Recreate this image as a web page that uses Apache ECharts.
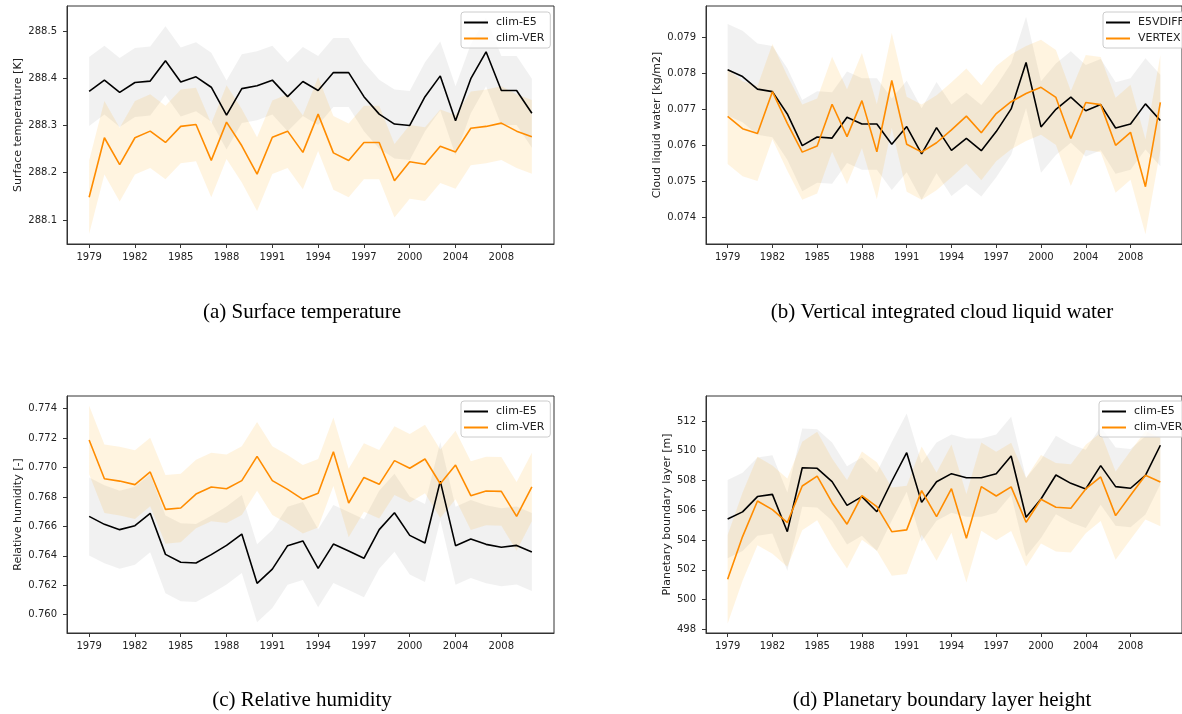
<!DOCTYPE html>
<html>
<head>
<meta charset="utf-8">
<script src="https://cdn.jsdelivr.net/npm/echarts@6/dist/echarts.min.js"></script>
<style>
  html, body { margin: 0; padding: 0; background: #fff; }
  #main { width: 1182px; height: 714px; }
</style>
</head>
<body>
<div id="main"></div>
<script>
// x positions are sample indices 0..29, labelled at every third one
const tickIdx = [0, 3, 6, 9, 12, 15, 18, 21, 24, 27];
const tickLabels = ['1979', '1982', '1985', '1988', '1991', '1994', '1997', '2000', '2004', '2008'];

// (a) surface temperature [K]
const tasE5 = [288.372, 288.396, 288.370, 288.391, 288.394, 288.437, 288.392, 288.403, 288.381, 288.322, 288.378, 288.384, 288.396, 288.361, 288.393, 288.374, 288.412, 288.412, 288.361, 288.324, 288.303, 288.300, 288.361, 288.405, 288.310, 288.399, 288.456, 288.374, 288.374, 288.326];
const tasE5Hi = [288.445, 288.469, 288.443, 288.464, 288.467, 288.510, 288.465, 288.476, 288.454, 288.395, 288.451, 288.457, 288.469, 288.434, 288.466, 288.447, 288.485, 288.485, 288.434, 288.397, 288.376, 288.373, 288.434, 288.478, 288.383, 288.472, 288.529, 288.447, 288.447, 288.399];
const tasE5Lo = [288.299, 288.323, 288.297, 288.318, 288.321, 288.364, 288.319, 288.330, 288.308, 288.249, 288.305, 288.311, 288.323, 288.288, 288.320, 288.301, 288.339, 288.339, 288.288, 288.251, 288.230, 288.227, 288.288, 288.332, 288.237, 288.326, 288.383, 288.301, 288.301, 288.253];
const tasVer = [288.148, 288.274, 288.217, 288.274, 288.288, 288.264, 288.298, 288.302, 288.226, 288.307, 288.257, 288.197, 288.275, 288.288, 288.243, 288.324, 288.242, 288.226, 288.264, 288.264, 288.183, 288.223, 288.218, 288.256, 288.244, 288.294, 288.298, 288.305, 288.288, 288.276];
const tasVerHi = [288.226, 288.352, 288.295, 288.352, 288.366, 288.342, 288.376, 288.380, 288.304, 288.385, 288.335, 288.275, 288.353, 288.366, 288.321, 288.402, 288.320, 288.304, 288.342, 288.342, 288.261, 288.301, 288.296, 288.334, 288.322, 288.372, 288.376, 288.383, 288.366, 288.354];
const tasVerLo = [288.070, 288.196, 288.139, 288.196, 288.210, 288.186, 288.220, 288.224, 288.148, 288.229, 288.179, 288.119, 288.197, 288.210, 288.165, 288.246, 288.164, 288.148, 288.186, 288.186, 288.105, 288.145, 288.140, 288.178, 288.166, 288.216, 288.220, 288.227, 288.210, 288.198];
const tasTicks = [288.1, 288.2, 288.3, 288.4, 288.5];

// (b) vertical integrated cloud liquid water [kg/m2]
const clwE5 = [0.07810, 0.07791, 0.07756, 0.07749, 0.07687, 0.07599, 0.07623, 0.07620, 0.07678, 0.07659, 0.07659, 0.07603, 0.07652, 0.07576, 0.07649, 0.07586, 0.07619, 0.07585, 0.07638, 0.07701, 0.07830, 0.07651, 0.07700, 0.07734, 0.07696, 0.07713, 0.07648, 0.07659, 0.07715, 0.07669];
const clwE5Hi = [0.07937, 0.07918, 0.07883, 0.07876, 0.07814, 0.07726, 0.07750, 0.07747, 0.07805, 0.07786, 0.07786, 0.07730, 0.07779, 0.07703, 0.07776, 0.07713, 0.07746, 0.07712, 0.07765, 0.07828, 0.07957, 0.07778, 0.07827, 0.07861, 0.07823, 0.07840, 0.07775, 0.07786, 0.07842, 0.07796];
const clwE5Lo = [0.07683, 0.07664, 0.07629, 0.07622, 0.07560, 0.07472, 0.07496, 0.07493, 0.07551, 0.07532, 0.07532, 0.07476, 0.07525, 0.07449, 0.07522, 0.07459, 0.07492, 0.07458, 0.07511, 0.07574, 0.07703, 0.07524, 0.07573, 0.07607, 0.07569, 0.07586, 0.07521, 0.07532, 0.07588, 0.07542];
const clwVer = [0.07680, 0.07646, 0.07633, 0.07749, 0.07661, 0.07581, 0.07598, 0.07714, 0.07624, 0.07724, 0.07582, 0.07780, 0.07603, 0.07581, 0.07607, 0.07643, 0.07681, 0.07635, 0.07688, 0.07721, 0.07744, 0.07761, 0.07733, 0.07619, 0.07719, 0.07713, 0.07600, 0.07636, 0.07485, 0.07719];
const clwVerHi = [0.07812, 0.07778, 0.07765, 0.07881, 0.07793, 0.07713, 0.07730, 0.07846, 0.07756, 0.07856, 0.07714, 0.07912, 0.07735, 0.07713, 0.07739, 0.07775, 0.07813, 0.07767, 0.07820, 0.07853, 0.07876, 0.07893, 0.07865, 0.07751, 0.07851, 0.07845, 0.07732, 0.07768, 0.07617, 0.07851];
const clwVerLo = [0.07548, 0.07514, 0.07501, 0.07617, 0.07529, 0.07449, 0.07466, 0.07582, 0.07492, 0.07592, 0.07450, 0.07648, 0.07471, 0.07449, 0.07475, 0.07511, 0.07549, 0.07503, 0.07556, 0.07589, 0.07612, 0.07629, 0.07601, 0.07487, 0.07587, 0.07581, 0.07468, 0.07504, 0.07353, 0.07587];
const clwTicks = [0.074, 0.075, 0.076, 0.077, 0.078, 0.079];

// (c) relative humidity [-]
const rhE5 = [0.76668, 0.76614, 0.76578, 0.76605, 0.76689, 0.76410, 0.76356, 0.76351, 0.76408, 0.76471, 0.76548, 0.76213, 0.76310, 0.76469, 0.76501, 0.76315, 0.76480, 0.76433, 0.76383, 0.76578, 0.76693, 0.76539, 0.76487, 0.76908, 0.76469, 0.76514, 0.76478, 0.76458, 0.76471, 0.76426];
const rhE5Hi = [0.76933, 0.76879, 0.76843, 0.76870, 0.76954, 0.76675, 0.76621, 0.76616, 0.76673, 0.76736, 0.76813, 0.76478, 0.76575, 0.76734, 0.76766, 0.76580, 0.76745, 0.76698, 0.76648, 0.76843, 0.76958, 0.76804, 0.76752, 0.77173, 0.76734, 0.76779, 0.76743, 0.76723, 0.76736, 0.76691];
const rhE5Lo = [0.76403, 0.76349, 0.76313, 0.76340, 0.76424, 0.76145, 0.76091, 0.76086, 0.76143, 0.76206, 0.76283, 0.75948, 0.76045, 0.76204, 0.76236, 0.76050, 0.76215, 0.76168, 0.76118, 0.76313, 0.76428, 0.76274, 0.76222, 0.76643, 0.76204, 0.76249, 0.76213, 0.76193, 0.76206, 0.76161];
const rhVer = [0.77187, 0.76924, 0.76908, 0.76884, 0.76970, 0.76716, 0.76725, 0.76820, 0.76868, 0.76856, 0.76911, 0.77076, 0.76911, 0.76852, 0.76784, 0.76825, 0.77108, 0.76759, 0.76933, 0.76886, 0.77047, 0.76995, 0.77058, 0.76890, 0.77017, 0.76809, 0.76841, 0.76838, 0.76668, 0.76868];
const rhVerHi = [0.77420, 0.77157, 0.77141, 0.77117, 0.77203, 0.76949, 0.76958, 0.77053, 0.77101, 0.77089, 0.77144, 0.77309, 0.77144, 0.77085, 0.77017, 0.77058, 0.77341, 0.76992, 0.77166, 0.77119, 0.77280, 0.77228, 0.77291, 0.77123, 0.77250, 0.77042, 0.77074, 0.77071, 0.76901, 0.77101];
const rhVerLo = [0.76954, 0.76691, 0.76675, 0.76651, 0.76737, 0.76483, 0.76492, 0.76587, 0.76635, 0.76623, 0.76678, 0.76843, 0.76678, 0.76619, 0.76551, 0.76592, 0.76875, 0.76526, 0.76700, 0.76653, 0.76814, 0.76762, 0.76825, 0.76657, 0.76784, 0.76576, 0.76608, 0.76605, 0.76435, 0.76635];
const rhTicks = [0.760, 0.762, 0.764, 0.766, 0.768, 0.770, 0.772, 0.774];

// (d) planetary boundary layer height [m]
const pblE5 = [505.41, 505.89, 506.92, 507.07, 504.56, 508.86, 508.82, 507.92, 506.33, 506.92, 505.90, 507.95, 509.87, 506.53, 507.92, 508.46, 508.19, 508.19, 508.46, 509.65, 505.53, 506.76, 508.37, 507.81, 507.43, 509.00, 507.59, 507.48, 508.35, 510.37];
const pblE5Hi = [508.04, 508.52, 509.55, 509.70, 507.19, 511.49, 511.45, 510.55, 508.96, 509.55, 508.53, 510.58, 512.50, 509.16, 510.55, 511.09, 510.82, 510.82, 511.09, 512.28, 508.16, 509.39, 511.00, 510.44, 510.06, 511.63, 510.22, 510.11, 510.98, 513.00];
const pblE5Lo = [502.78, 503.26, 504.29, 504.44, 501.93, 506.23, 506.19, 505.29, 503.70, 504.29, 503.27, 505.32, 507.24, 503.90, 505.29, 505.83, 505.56, 505.56, 505.83, 507.02, 502.90, 504.13, 505.74, 505.18, 504.80, 506.37, 504.96, 504.85, 505.72, 507.74];
const pblVer = [501.36, 504.23, 506.62, 506.04, 505.17, 507.63, 508.30, 506.51, 505.06, 506.98, 506.25, 504.56, 504.68, 507.32, 505.57, 507.45, 504.12, 507.59, 506.96, 507.57, 505.19, 506.74, 506.20, 506.13, 507.43, 508.24, 505.64, 507.01, 508.35, 507.90];
const pblVerHi = [504.33, 507.20, 509.59, 509.01, 508.14, 510.60, 511.27, 509.48, 508.03, 509.95, 509.22, 507.53, 507.65, 510.29, 508.54, 510.42, 507.09, 510.56, 509.93, 510.54, 508.16, 509.71, 509.17, 509.10, 510.40, 511.21, 508.61, 509.98, 511.32, 510.87];
const pblVerLo = [498.39, 501.26, 503.65, 503.07, 502.20, 504.66, 505.33, 503.54, 502.09, 504.01, 503.28, 501.59, 501.71, 504.35, 502.60, 504.48, 501.15, 504.62, 503.99, 504.60, 502.22, 503.77, 503.23, 503.16, 504.46, 505.27, 502.67, 504.04, 505.38, 504.93];
const pblTicks = [498, 500, 502, 504, 506, 508, 510, 512];

var chart = echarts.init(document.getElementById('main'), null, { renderer: 'canvas' });

var font = 'DejaVu Sans';
var black = '#000000', orange = '#ff8c00';
var greyFill = 'rgba(128,128,128,0.11)', orangeFill = 'rgba(255,165,0,0.12)';

var grids = [
  { left: 67, top: 6, width: 487, height: 238 },
  { left: 706, top: 6, width: 487, height: 238 },
  { left: 67, top: 396, width: 487, height: 237 },
  { left: 706, top: 396, width: 487, height: 237 }
];
grids.forEach(function (g) {
  g.show = true; g.borderColor = '#333'; g.borderWidth = 1; g.backgroundColor = 'transparent';
});

function xAxis(i) {
  return {
    type: 'value', gridIndex: i, min: -1.45, max: 30.45,
    splitLine: { show: false },
    axisLine: { show: true, onZero: false, lineStyle: { color: '#333', width: 1 } },
    axisTick: { show: true, customValues: tickIdx, length: 4, lineStyle: { color: '#333' } },
    axisLabel: {
      customValues: tickIdx, margin: 8, color: '#222', fontFamily: font, fontSize: 10,
      formatter: function (v) { return tickLabels[tickIdx.indexOf(Math.round(v))] || ''; }
    }
  };
}

function yAxis(i, min, max, ticks, dec, name, gap) {
  return {
    type: 'value', gridIndex: i, min: min, max: max,
    name: name, nameLocation: 'middle', nameGap: gap,
    nameTextStyle: { fontFamily: font, fontSize: 11, color: '#222' },
    splitLine: { show: false },
    axisLine: { show: true, onZero: false, lineStyle: { color: '#333', width: 1 } },
    axisTick: { show: true, customValues: ticks, length: 4, lineStyle: { color: '#333' } },
    axisLabel: {
      customValues: ticks, margin: 10, color: '#222', fontFamily: font, fontSize: 10,
      formatter: function (v) { return v.toFixed(dec); }
    }
  };
}

function band(name, i, lo, hi, fill) {
  return {
    type: 'custom', name: name, xAxisIndex: i, yAxisIndex: i, z: 1, silent: true,
    data: lo.map(function (v, k) { return [k, v, hi[k]]; }),
    encode: { x: 0, y: [1, 2] },
    renderItem: function (params, api) {
      if (params.dataIndex !== 0) return;
      var pts = [];
      for (var k = 0; k < hi.length; k++) pts.push(api.coord([k, hi[k]]));
      for (var j = lo.length - 1; j >= 0; j--) pts.push(api.coord([j, lo[j]]));
      return { type: 'polygon', shape: { points: pts }, style: { fill: fill } };
    }
  };
}

function line(name, i, vals, color) {
  return {
    type: 'line', name: name, xAxisIndex: i, yAxisIndex: i, z: 3,
    data: vals.map(function (v, k) { return [k, v]; }),
    showSymbol: false, symbol: 'none', color: color,
    lineStyle: { color: color, width: 1.6 },
    itemStyle: { color: color }
  };
}

function legend(names, left, top) {
  return {
    data: names, orient: 'vertical', left: left, top: top,
    icon: 'rect', itemWidth: 24, itemHeight: 2, itemGap: 3,
    padding: [4, 6, 3, 3],
    backgroundColor: 'rgba(255,255,255,0.8)', borderColor: '#cccccc', borderWidth: 1, borderRadius: 3,
    textStyle: { fontFamily: font, fontSize: 11, color: '#222', lineHeight: 13, padding: [0, 0, 0, 3] },
    selectedMode: false
  };
}

function caption(text, x, y) {
  return {
    type: 'text', x: x, y: y,
    style: { text: text, font: '21px "Liberation Serif"', fill: '#000', align: 'center', verticalAlign: 'middle' }
  };
}

chart.setOption({
  animation: false,
  backgroundColor: '#ffffff',
  grid: grids,
  xAxis: [xAxis(0), xAxis(1), xAxis(2), xAxis(3)],
  yAxis: [
    yAxis(0, 288.049, 288.553, tasTicks, 1, 'Surface temperature [K]', 43),
    yAxis(1, 0.073258, 0.079869, clwTicks, 3, 'Cloud liquid water [kg/m2]', 43),
    yAxis(2, 0.758756, 0.774863, rhTicks, 3, 'Relative humidity [-]', 43),
    yAxis(3, 497.75, 513.68, pblTicks, 0, 'Planetary boundary layer [m]', 33)
  ],
  legend: [
    legend(['clim-E5', 'clim-VER'], 461, 12),
    legend(['E5VDIFF', 'VERTEX'], 1103, 12),
    legend(['clim-E5', 'clim-VER'], 461, 401),
    legend(['clim-E5', 'clim-VER'], 1099, 401)
  ],
  series: [
    band('E5 band a', 0, tasE5Lo, tasE5Hi, greyFill),
    band('VER band a', 0, tasVerLo, tasVerHi, orangeFill),
    line('clim-E5', 0, tasE5, black),
    line('clim-VER', 0, tasVer, orange),

    band('E5 band b', 1, clwE5Lo, clwE5Hi, greyFill),
    band('VER band b', 1, clwVerLo, clwVerHi, orangeFill),
    line('E5VDIFF', 1, clwE5, black),
    line('VERTEX', 1, clwVer, orange),

    band('E5 band c', 2, rhE5Lo, rhE5Hi, greyFill),
    band('VER band c', 2, rhVerLo, rhVerHi, orangeFill),
    line('clim-E5', 2, rhE5, black),
    line('clim-VER', 2, rhVer, orange),

    band('E5 band d', 3, pblE5Lo, pblE5Hi, greyFill),
    band('VER band d', 3, pblVerLo, pblVerHi, orangeFill),
    line('clim-E5', 3, pblE5, black),
    line('clim-VER', 3, pblVer, orange)
  ],
  graphic: [
    caption('(a) Surface temperature', 302, 312),
    caption('(b) Vertical integrated cloud liquid water', 942, 312),
    caption('(c) Relative humidity', 302, 700),
    caption('(d) Planetary boundary layer height', 942, 700)
  ]
});
</script>
</body>
</html>
